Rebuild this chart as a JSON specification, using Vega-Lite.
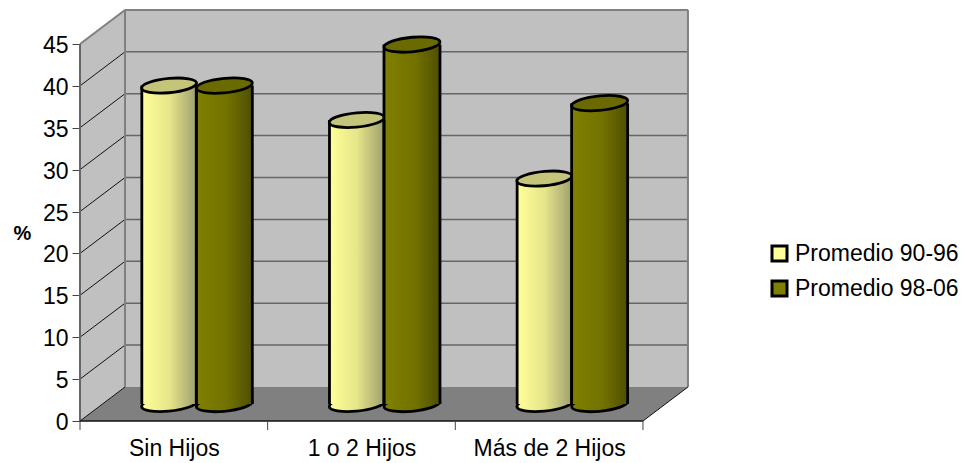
{"$schema":"https://vega.github.io/schema/vega-lite/v6.json","width":608,"height":411,"autosize":"none","padding":{"left":80,"top":10,"right":276,"bottom":42},"background":"white","config":{"view":{"stroke":null},"font":"Liberation Sans"},
"datasets":{"bars":[
{"grupo":"Sin Hijos","pos":0.5,"serie":"Promedio 90-96","valor":38},
{"grupo":"Sin Hijos","pos":0.5,"serie":"Promedio 98-06","valor":38},
{"grupo":"1 o 2 Hijos","pos":1.5,"serie":"Promedio 90-96","valor":33.9},
{"grupo":"1 o 2 Hijos","pos":1.5,"serie":"Promedio 98-06","valor":42.9},
{"grupo":"Más de 2 Hijos","pos":2.5,"serie":"Promedio 90-96","valor":26.9},
{"grupo":"Más de 2 Hijos","pos":2.5,"serie":"Promedio 98-06","valor":35.9}],
"levels":[{"v":0},{"v":5},{"v":10},{"v":15},{"v":20},{"v":25},{"v":30},{"v":35},{"v":40},{"v":45}],
"catticks":[{"c":0},{"c":1},{"c":2},{"c":3}]},
"layer":[
{"data":{"values":[{"x":0,"y":45,"y2":0},{"x":0.24,"y":49.05,"y2":4.06}]},"mark":{"type":"area","fill":"#C0C0C0","stroke":null},
"encoding":{
"x":{"field":"x","type":"quantitative","scale":{"domain":[0,3.24],"nice":false,"zero":false},"axis":{"title":null,"values":[0.5,1.5,2.5],"labelExpr":"datum.value===0.5?'Sin Hijos':datum.value===1.5?'1 o 2 Hijos':'Más de 2 Hijos'","ticks":false,"domain":false,"grid":false,"labelFontSize":23,"labelColor":"black","labelPadding":16,"labelFont":"Liberation Sans"}},
"y":{"field":"y","type":"quantitative","scale":{"domain":[0,49.05],"nice":false,"zero":false},"axis":{"title":"%","titleAngle":0,"titleFontSize":20,"titleFontWeight":"bold","titleColor":"black","titleX":-58,"titleY":223,"titleAlign":"center","titleBaseline":"middle","titleFont":"Liberation Sans","values":[0,5,10,15,20,25,30,35,40,45],"domain":false,"grid":false,"tickColor":"#444444","tickSize":8,"labelFontSize":23,"labelColor":"black","labelPadding":4,"labelOffset":1.5,"labelFont":"Liberation Sans"}},
"y2":{"field":"y2"}}},
{"data":{"values":[{"x":0,"y":0,"y2":0},{"x":0.24,"y":4.06,"y2":0},{"x":3,"y":4.06,"y2":0},{"x":3.24,"y":4.06,"y2":4.06}]},"mark":{"type":"area","fill":"#808080","stroke":null},
"encoding":{"x":{"field":"x","type":"quantitative"},"y":{"field":"y","type":"quantitative"},"y2":{"field":"y2"}}},
{"data":{"values":[{"x":0,"x2":3,"y":0,"y2":45}]},"mark":{"type":"rect","fill":"#C0C0C0","xOffset":45,"x2Offset":45,"yOffset":-34,"y2Offset":-34},
"encoding":{"x":{"field":"x","type":"quantitative"},"x2":{"field":"x2"},"y":{"field":"y","type":"quantitative"},"y2":{"field":"y2"}}},
{"data":{"name":"levels"},"transform":[{"filter":"datum.v>0 && datum.v<45"}],"mark":{"type":"rule","stroke":"#666666","strokeWidth":1.5,"xOffset":45,"x2Offset":45,"yOffset":-34},
"encoding":{"x":{"datum":0,"type":"quantitative"},"x2":{"datum":3},"y":{"field":"v","type":"quantitative"}}},
{"data":{"name":"levels"},"transform":[{"filter":"datum.v<45"}],"mark":{"type":"rule","stroke":"#111111","strokeWidth":1,"x2Offset":45,"y2Offset":-34},
"encoding":{"x":{"datum":0,"type":"quantitative"},"x2":{"datum":0},"y":{"field":"v","type":"quantitative"},"y2":{"field":"v"}}},
{"data":{"values":[{"y":45}]},"mark":{"type":"rule","stroke":"#808080","strokeWidth":2,"x2Offset":45,"y2Offset":-34},
"encoding":{"x":{"datum":0,"type":"quantitative"},"x2":{"datum":0},"y":{"field":"y","type":"quantitative"},"y2":{"field":"y"}}},
{"data":{"values":[{"y":45}]},"mark":{"type":"rule","stroke":"#808080","strokeWidth":2,"xOffset":45,"x2Offset":45,"yOffset":-34},
"encoding":{"x":{"datum":0,"type":"quantitative"},"x2":{"datum":3},"y":{"field":"y","type":"quantitative"}}},
{"data":{"values":[{"x":0},{"x":3}]},"mark":{"type":"rule","stroke":"#808080","strokeWidth":2,"xOffset":45,"yOffset":-34,"y2Offset":-34},
"encoding":{"x":{"field":"x","type":"quantitative"},"y":{"datum":0,"type":"quantitative"},"y2":{"datum":45}}},
{"data":{"values":[{"x":0}]},"mark":{"type":"rule","stroke":"#666666","strokeWidth":2},
"encoding":{"x":{"field":"x","type":"quantitative"},"y":{"datum":0,"type":"quantitative"},"y2":{"datum":45}}},
{"data":{"values":[{"y":0}]},"mark":{"type":"rule","stroke":"#111111","strokeWidth":1.5},
"encoding":{"x":{"datum":0,"type":"quantitative"},"x2":{"datum":3},"y":{"field":"y","type":"quantitative"}}},
{"data":{"values":[{"y":0}]},"mark":{"type":"rule","stroke":"#111111","strokeWidth":1,"x2Offset":45,"y2Offset":-34},
"encoding":{"x":{"datum":3,"type":"quantitative"},"x2":{"datum":3},"y":{"field":"y","type":"quantitative"},"y2":{"field":"y"}}},
{"data":{"name":"catticks"},"mark":{"type":"rule","stroke":"#444444","strokeWidth":1,"y2Offset":9},
"encoding":{"x":{"field":"c","type":"quantitative"},"y":{"datum":0,"type":"quantitative"},"y2":{"datum":0}}},

{"data":{"name":"bars"},"transform":[{"filter":"datum.serie==='Promedio 90-96'"}],"mark":{"type":"point","shape":"M -1 0.09 C -1 -0.0536 -0.5523 -0.21 0 -0.26 C 0.5523 -0.31 1 -0.2336 1 -0.09 C 1 0.0536 0.5523 0.21 0 0.26 C -0.5523 0.31 -1 0.2336 -1 0.09 Z","filled":true,"size":3025,"opacity":1,"stroke":"black","strokeWidth":2.8,"fill":{"gradient":"linear","stops":[{"offset":0,"color":"#FFFF99"},{"offset":0.5,"color":"#E6E68A"},{"offset":1,"color":"#A0A070"}]},"xOffset":-4.75,"yOffset":-17},
"encoding":{"x":{"field":"pos","type":"quantitative"},"y":{"datum":0,"type":"quantitative"}}},
{"data":{"name":"bars"},"transform":[{"filter":"datum.serie==='Promedio 90-96'"}],"mark":{"type":"rect","fill":{"gradient":"linear","stops":[{"offset":0,"color":"#FFFF99"},{"offset":0.5,"color":"#E6E68A"},{"offset":1,"color":"#A0A070"}]},"xOffset":-32,"x2Offset":22.5,"yOffset":-17,"y2Offset":-17},
"encoding":{"x":{"field":"pos","type":"quantitative"},"x2":{"field":"pos"},"y":{"field":"valor","type":"quantitative"},"y2":{"datum":0}}},
{"data":{"name":"bars"},"transform":[{"filter":"datum.serie==='Promedio 90-96'"}],"mark":{"type":"rule","stroke":"black","strokeWidth":2.8,"xOffset":-32,"yOffset":-17,"y2Offset":-17},
"encoding":{"x":{"field":"pos","type":"quantitative"},"y":{"field":"valor","type":"quantitative"},"y2":{"datum":0}}},
{"data":{"name":"bars"},"transform":[{"filter":"datum.serie==='Promedio 90-96'"}],"mark":{"type":"point","shape":"M -1 0.09 C -1 -0.0536 -0.5523 -0.21 0 -0.26 C 0.5523 -0.31 1 -0.2336 1 -0.09 C 1 0.0536 0.5523 0.21 0 0.26 C -0.5523 0.31 -1 0.2336 -1 0.09 Z","filled":true,"size":3025,"opacity":1,"stroke":"black","strokeWidth":2.8,"fill":"#C4C47A","xOffset":-4.75,"yOffset":-17},
"encoding":{"x":{"field":"pos","type":"quantitative"},"y":{"field":"valor","type":"quantitative"}}},

{"data":{"name":"bars"},"transform":[{"filter":"datum.serie==='Promedio 98-06'"}],"mark":{"type":"point","shape":"M -1 0.09 C -1 -0.0536 -0.5523 -0.21 0 -0.26 C 0.5523 -0.31 1 -0.2336 1 -0.09 C 1 0.0536 0.5523 0.21 0 0.26 C -0.5523 0.31 -1 0.2336 -1 0.09 Z","filled":true,"size":3136,"opacity":1,"stroke":"black","strokeWidth":2.8,"fill":{"gradient":"linear","stops":[{"offset":0,"color":"#808000"},{"offset":0.55,"color":"#727200"},{"offset":1,"color":"#4F4F00"}]},"xOffset":50.5,"yOffset":-17},
"encoding":{"x":{"field":"pos","type":"quantitative"},"y":{"datum":0,"type":"quantitative"}}},
{"data":{"name":"bars"},"transform":[{"filter":"datum.serie==='Promedio 98-06'"}],"mark":{"type":"rect","fill":{"gradient":"linear","stops":[{"offset":0,"color":"#808000"},{"offset":0.55,"color":"#727200"},{"offset":1,"color":"#4F4F00"}]},"xOffset":22.5,"x2Offset":78.5,"yOffset":-17,"y2Offset":-17},
"encoding":{"x":{"field":"pos","type":"quantitative"},"x2":{"field":"pos"},"y":{"field":"valor","type":"quantitative"},"y2":{"datum":0}}},
{"data":{"name":"bars"},"transform":[{"filter":"datum.serie==='Promedio 98-06'"}],"mark":{"type":"rule","stroke":"black","strokeWidth":2.8,"xOffset":22.5,"yOffset":-17,"y2Offset":-17},
"encoding":{"x":{"field":"pos","type":"quantitative"},"y":{"field":"valor","type":"quantitative"},"y2":{"datum":0}}},
{"data":{"name":"bars"},"transform":[{"filter":"datum.serie==='Promedio 90-96'"}],"mark":{"type":"rule","stroke":"black","strokeWidth":2.8,"xOffset":22.5,"yOffset":-17,"y2Offset":-17},
"encoding":{"x":{"field":"pos","type":"quantitative"},"y":{"field":"valor","type":"quantitative"},"y2":{"datum":0}}},
{"data":{"name":"bars"},"transform":[{"filter":"datum.serie==='Promedio 98-06'"}],"mark":{"type":"rule","stroke":"black","strokeWidth":2.8,"xOffset":78.5,"yOffset":-17,"y2Offset":-17},
"encoding":{"x":{"field":"pos","type":"quantitative"},"y":{"field":"valor","type":"quantitative"},"y2":{"datum":0}}},
{"data":{"name":"bars"},"transform":[{"filter":"datum.serie==='Promedio 98-06'"}],"mark":{"type":"point","shape":"M -1 0.09 C -1 -0.0536 -0.5523 -0.21 0 -0.26 C 0.5523 -0.31 1 -0.2336 1 -0.09 C 1 0.0536 0.5523 0.21 0 0.26 C -0.5523 0.31 -1 0.2336 -1 0.09 Z","filled":true,"size":3136,"opacity":1,"stroke":"black","strokeWidth":2.8,"fill":"#6A6A00","xOffset":50.5,"yOffset":-17},
"encoding":{"x":{"field":"pos","type":"quantitative"},"y":{"field":"valor","type":"quantitative"}}},

{"data":{"name":"bars"},"mark":{"type":"rect","strokeWidth":0},
"encoding":{
"x":{"field":"pos","type":"quantitative"},
"x2":{"field":"pos"},
"y":{"datum":0,"type":"quantitative"},
"y2":{"datum":0},
"color":{"field":"serie","type":"nominal","scale":{"domain":["Promedio 90-96","Promedio 98-06"],"range":["#FFFF99","#808000"]},"legend":{"title":null,"orient":"none","legendX":688,"legendY":232,"symbolType":"square","symbolSize":225,"symbolStrokeColor":"black","symbolStrokeWidth":3,"symbolOpacity":1,"labelFontSize":23,"labelColor":"black","labelFont":"Liberation Sans","labelOffset":4,"rowPadding":8,"labelLimit":200}}}}
]}
